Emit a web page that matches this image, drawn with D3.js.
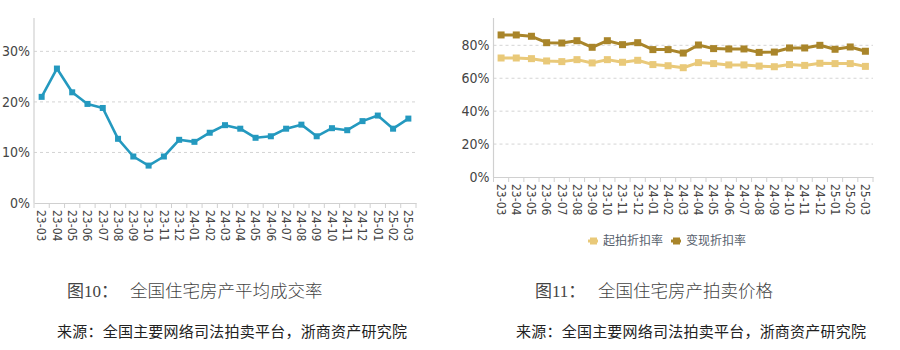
<!DOCTYPE html>
<html>
<head>
<meta charset="utf-8">
<script src="https://cdn.jsdelivr.net/npm/d3@7"></script>
<style>
  html, body { margin: 0; padding: 0; background: #fff; }
  svg { display: block; }
  .tick-lbl { font-family: "Liberation Sans Narrow", "DejaVu Sans Condensed", "Liberation Sans", sans-serif; fill: #444; }
  .cap { font-family: "Liberation Serif", "Noto Sans CJK SC", serif; fill: #444; }
  .src { font-family: "Noto Sans CJK SC", sans-serif; fill: #222; }
</style>
</head>
<body>
<svg id="chart" width="900" height="350"></svg>
<script>
// Monthly categories shared by both panels
const months = ["23-03","23-04","23-05","23-06","23-07","23-08","23-09","23-10","23-11","23-12",
  "24-01","24-02","24-03","24-04","24-05","24-06","24-07","24-08","24-09","24-10","24-11","24-12",
  "25-01","25-02","25-03"];

// Panel 1: average transaction rate (%)
const dealRate = [21.0, 26.6, 21.9, 19.6, 18.8, 12.7, 9.2, 7.4, 9.2, 12.5,
  12.1, 13.9, 15.4, 14.7, 12.9, 13.2, 14.7, 15.5, 13.2, 14.8, 14.4, 16.2,
  17.3, 14.7, 16.7];

// Panel 2: starting-bid discount and realised discount (%)
const startDiscount = [72.3, 72.3, 71.9, 70.5, 70.1, 71.3, 69.3, 71.3, 69.7, 70.9,
  68.3, 67.6, 66.4, 69.5, 68.9, 68.1, 68.1, 67.4, 67.0, 68.3, 67.8, 69.1,
  68.9, 68.9, 67.2];
const realizedDiscount = [86.3, 86.3, 85.5, 81.6, 81.4, 82.8, 78.8, 82.8, 80.4, 81.6,
  77.4, 77.4, 75.3, 80.2, 78.0, 77.8, 77.8, 75.7, 75.9, 78.4, 78.4, 80.0,
  77.6, 79.0, 76.4];

const leftTicks = [0, 10, 20, 30];
const rightTicks = [0, 20, 40, 60, 80];
const seriesNames = ["起拍折扣率", "变现折扣率"];

const captions = [
  { num: "图10：", title: "全国住宅房产平均成交率" },
  { num: "图11：", title: "全国住宅房产拍卖价格" }
];
const sourceText = "来源：全国主要网络司法拍卖平台，浙商资产研究院";

const svg = d3.select("#chart");

function panel(opt) {
  const g = svg.append("g");
  const x = d3.scaleBand().domain(months).range(opt.xRange).paddingInner(0).paddingOuter(0);
  const y = d3.scaleLinear().domain(opt.yDomain).range(opt.yRange);

  // dashed gridlines
  g.selectAll(".grid").data(opt.ticks.filter(t => t > 0)).join("line")
    .attr("x1", opt.xRange[0]).attr("x2", opt.xRange[1])
    .attr("y1", d => y(d)).attr("y2", d => y(d))
    .attr("stroke", "#d4d4d4").attr("stroke-width", 1).attr("stroke-dasharray", "3,3");

  // y axis line
  g.append("line")
    .attr("x1", opt.xRange[0]).attr("x2", opt.xRange[0])
    .attr("y1", y(0)).attr("y2", y(opt.yDomain[1]))
    .attr("stroke", "#d0d0d0").attr("stroke-width", 1.2);

  // y tick labels
  g.selectAll(".ylbl").data(opt.ticks).join("text")
    .attr("class", "tick-lbl")
    .attr("x", opt.xRange[0] - 4).attr("y", d => y(d))
    .attr("dy", "0.35em").attr("text-anchor", "end")
    .attr("font-size", 14)
    .text(d => d + "%");

  // x axis with ticks between months
  const xAxis = d3.axisBottom(x).tickSize(0).tickFormat("");
  const ax = g.append("g").attr("transform", `translate(0,${y(0)})`).call(xAxis);
  ax.select(".domain").attr("stroke", "#d0d0d0").attr("stroke-width", 1.2);
  const bounds = months.map(m => x(m)).concat([x(months[months.length - 1]) + x.bandwidth()]);
  g.selectAll(".xtick").data(bounds).join("line")
    .attr("x1", d => d).attr("x2", d => d)
    .attr("y1", y(0)).attr("y2", y(0) + 5)
    .attr("stroke", "#d0d0d0");

  // rotated month labels
  g.selectAll(".xlbl").data(months).join("text")
    .attr("class", "tick-lbl")
    .attr("font-size", 12)
    .attr("transform", d => `translate(${x(d) + x.bandwidth() / 2},${y(0) + 7}) rotate(90)`)
    .attr("dy", "0.35em")
    .text(d => d);

  // series
  opt.series.forEach(s => {
    const pts = months.map((m, i) => [x(m) + x.bandwidth() / 2, y(s.values[i])]);
    g.append("path")
      .attr("d", d3.line()(pts))
      .attr("fill", "none").attr("stroke", s.color)
      .attr("stroke-width", s.width).attr("stroke-linejoin", "round");
    g.selectAll(null).data(pts).join("rect")
      .attr("x", d => d[0] - s.marker / 2).attr("y", d => d[1] - s.marker / 2)
      .attr("width", s.marker).attr("height", s.marker)
      .attr("fill", s.color);
  });
  return { x, y };
}

const teal = "#2499bf";
const gold = "#a9852a";
const sand = "#e9c979";

panel({
  xRange: [34, 416], yDomain: [0, 36.6], yRange: [203, 18], ticks: leftTicks,
  series: [{ values: dealRate, color: teal, width: 2.6, marker: 6 }]
});

panel({
  xRange: [493.5, 873], yDomain: [0, 96.6], yRange: [177, 18], ticks: rightTicks,
  series: [
    { values: startDiscount, color: sand, width: 3, marker: 7 },
    { values: realizedDiscount, color: gold, width: 3, marker: 7 }
  ]
});

// legend for panel 2
const legend = svg.append("g").attr("transform", "translate(588,241)");
[ { name: seriesNames[0], color: sand, x: 0 }, { name: seriesNames[1], color: gold, x: 83 } ].forEach(l => {
  const lg = legend.append("g").attr("transform", `translate(${l.x},0)`);
  lg.append("line").attr("x1", 0).attr("x2", 10).attr("y1", 0).attr("y2", 0)
    .attr("stroke", l.color).attr("stroke-width", 3);
  lg.append("rect").attr("x", 2).attr("y", -3.5).attr("width", 7).attr("height", 7).attr("fill", l.color);
  lg.append("text").attr("x", 15).attr("y", 0).attr("dy", "0.35em")
    .attr("font-family", "Noto Sans CJK SC, sans-serif").attr("font-size", 12)
    .attr("fill", "#56606c").text(l.name);
});

// captions and source lines
[[67, 130, 57], [535, 598, 516]].forEach((p, i) => {
  svg.append("text").attr("class", "cap").attr("x", p[0]).attr("y", 297)
    .attr("font-size", 17).text(captions[i].num);
  svg.append("text").attr("class", "cap").attr("x", p[1]).attr("y", 297)
    .attr("font-size", 17.5).attr("font-weight", 300).text(captions[i].title);
  svg.append("text").attr("class", "src").attr("x", p[2]).attr("y", 337)
    .attr("font-size", 15).attr("textLength", 350).attr("lengthAdjust", "spacing")
    .text(sourceText);
});
</script>
</body>
</html>
